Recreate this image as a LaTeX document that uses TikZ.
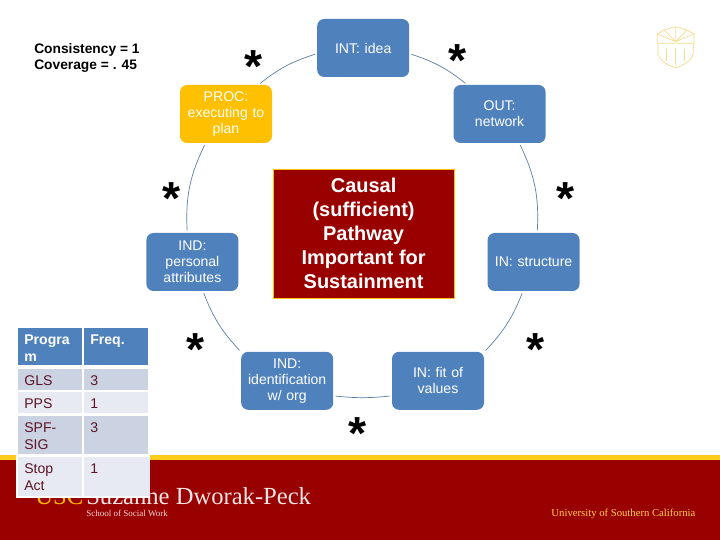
\documentclass[tikz,border=0pt]{standalone}
\usepackage{fontspec}
\setmainfont{Liberation Sans}
\newfontfamily\logofont{Liberation Serif}
\definecolor{uscblue}{HTML}{4F81BD}
\definecolor{uscgold}{HTML}{FFC000}
\definecolor{uscstripe}{HTML}{FFCC1C}
\definecolor{uscred}{HTML}{990000}
\definecolor{linkblue}{HTML}{5F7F9F}
\definecolor{rowa}{HTML}{CBD3E3}
\definecolor{rowb}{HTML}{E7EAF3}
\definecolor{celltext}{HTML}{5E1525}
\definecolor{crest}{HTML}{F3DC8E}

\begin{document}
\begin{tikzpicture}[
  box/.style={fill=uscblue, rounded corners=5pt, align=center, font=\fontsize{10}{11.3}\selectfont,
              text=white, inner sep=0pt, minimum width=2.3cm, minimum height=1.45cm, text width=2.2cm},
  link/.style={draw=linkblue, line width=0.5pt, shorten <=1.5pt, shorten >=1.5pt},
  mark star/.style={font=\fontsize{33}{33}\selectfont\bfseries, text=black, inner sep=0pt, yshift=-0.15cm},
  cell/.style={anchor=north west, inner sep=0pt, minimum width=1.6cm},
  cell text/.style={font=\fontsize{10}{12}\selectfont, text=celltext, align=left, inner xsep=4.3pt, inner ysep=4.5pt},
  head text/.style={cell text, font=\fontsize{10}{12}\selectfont\bfseries, text=white},
]
\useasboundingbox (0,0) rectangle (18,13.5);
\fill[white] (0,0) rectangle (18,13.5);

% footer band and logo
\fill[uscred] (0,0) rectangle (18,2);
\fill[uscstripe] (0,2) rectangle (18,2.125);
\node[anchor=base west, inner sep=0pt, font=\logofont\fontsize{17.5}{17.5}\selectfont, text=uscgold] (usc) at (0.88,0.9) {USC};
\node[anchor=base west, inner sep=0pt, font=\logofont\fontsize{17.5}{17.5}\selectfont, text=white!90!uscred] (school) at (2.15,0.9) {Suzanne Dworak-Peck};
\node[anchor=west, inner sep=0pt, font=\logofont\fontsize{6.4}{6.4}\selectfont, text=white!85!uscred] (social) at (2.15,0.66) {School of Social Work};
\node[anchor=west, inner sep=0pt, font=\logofont\fontsize{7.6}{7.6}\selectfont, text=uscgold!70!white] (univ) at (13.78,0.66) {University of Southern California};

% crest
\draw[crest, line width=0.5pt] (16.43,12.42) -- (16.43,12.65) -- (16.6,12.75) -- (16.89,12.83) -- (17.18,12.75) -- (17.35,12.65) -- (17.35,12.42) -- cycle;
\draw[crest, line width=0.5pt] (16.89,12.46) -- (16.89,12.83) (16.89,12.46) -- (16.6,12.75) (16.89,12.46) -- (17.18,12.75) (16.89,12.46) -- (16.43,12.65) (16.89,12.46) -- (17.35,12.65);
\draw[crest, line width=0.5pt] (16.45,12.42) -- (16.45,12.15) .. controls (16.5,11.95) and (16.75,11.85) .. (16.89,11.8) .. controls (17.03,11.85) and (17.28,11.95) .. (17.33,12.15) -- (17.33,12.42);
\draw[crest, line width=0.8pt] (16.66,12.28) -- (16.66,11.98) (16.89,12.3) -- (16.89,11.88) (17.12,12.28) -- (17.12,11.98);

% note
\node[anchor=north west, inner sep=0pt, align=left, font=\fontsize{9.8}{12}\selectfont\bfseries] (note) at (0.85,12.43) {Consistency = 1\\Coverage = . 45};

% centre
\node[fill=uscred, draw=uscgold, line width=0.6pt, align=center, text=white, inner sep=0pt,
      minimum width=4.52cm, minimum height=3.22cm, font=\fontsize{14.2}{17}\selectfont\bfseries] (causal) at (9.09,7.66)
  {Causal\\(sufficient)\\Pathway\\Important for\\Sustainment};

% cycle
\node[box] (idea) at (9.08,12.3) {INT: idea};
\node[box] (network) at (12.49,10.65) {OUT:\\network};
\node[box] (structure) at (13.34,6.95) {IN: structure};
\node[box] (values) at (10.95,3.98) {IN: fit of\\values};
\node[box] (org) at (7.18,3.98) {IND:\\identification\\w/ org};
\node[box] (personal) at (4.81,6.95) {IND:\\personal\\attributes};
\node[box, fill=uscgold] (plan) at (5.65,10.65) {PROC:\\executing to\\plan};
\draw[link] (idea.-7) to[bend left=10.5] (network.138);
\draw[link] (network.-56) to[bend left=14.5] (structure.83);
\draw[link] (structure.-110) to[bend left=11] (values.32);
\draw[link] (values.-162) to[bend left=6] (org.-18);
\draw[link] (org.148) to[bend left=11] (personal.-70);
\draw[link] (personal.100) to[bend left=14.5] (plan.-125);
\draw[link] (plan.42) to[bend left=10.5] (idea.187);

% stars
\node[mark star] (s1) at (6.33,11.98) {*};
\node[mark star] (s2) at (11.45,12.13) {*};
\node[mark star] (s3) at (4.3,8.68) {*};
\node[mark star] (s4) at (14.13,8.68) {*};
\node[mark star] (s5) at (4.9,4.9) {*};
\node[mark star] (s6) at (13.38,4.9) {*};
\node[mark star] (s7) at (8.93,2.8) {*};

% table
\fill[white] (0.4,1.05) rectangle (3.75,2.2);
\node[cell, fill=uscblue, minimum height=0.925cm, label={[head text, anchor=north west]north west:Progra\\m}] (prog) at (0.45,5.3) {};
\node[cell, fill=uscblue, minimum height=0.925cm, label={[head text, anchor=north west]north west:Freq.}] (freq) at (2.1,5.3) {};
\node[cell, fill=rowa, minimum height=0.525cm, label={[cell text, anchor=north west]north west:GLS}] (gls) at (0.45,4.275) {};
\node[cell, fill=rowa, minimum height=0.525cm, label={[cell text, anchor=north west]north west:3}] (glsn) at (2.1,4.275) {};
\node[cell, fill=rowb, minimum height=0.525cm, label={[cell text, anchor=north west]north west:PPS}] (pps) at (0.45,3.7) {};
\node[cell, fill=rowb, minimum height=0.525cm, label={[cell text, anchor=north west]north west:1}] (ppsn) at (2.1,3.7) {};
\node[cell, fill=rowa, minimum height=0.95cm, label={[cell text, anchor=north west]north west:SPF-\\SIG}] (spf) at (0.45,3.1) {};
\node[cell, fill=rowa, minimum height=0.95cm, label={[cell text, anchor=north west]north west:3}] (spfn) at (2.1,3.1) {};
\node[cell, fill=rowb, minimum height=0.975cm, label={[cell text, anchor=north west]north west:Stop\\Act}] (stop) at (0.45,2.075) {};
\node[cell, fill=rowb, minimum width=1.65cm, minimum height=0.975cm, label={[cell text, anchor=north west]north west:1}] (stopn) at (2.1,2.075) {};
\end{tikzpicture}
\end{document}
